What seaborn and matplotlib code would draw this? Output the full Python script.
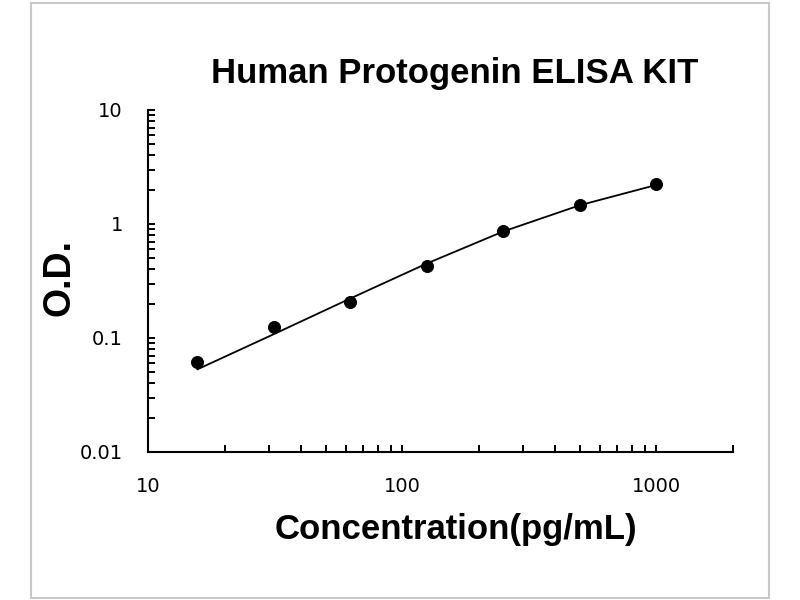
import matplotlib
matplotlib.use("Agg")
import matplotlib.pyplot as plt
import matplotlib.ticker as mticker
import pandas as pd
import seaborn as sns
from matplotlib.patches import Rectangle

# standard curve points (pg/mL vs O.D.)
concentration = [15.625, 31.25, 62.5, 125, 250, 500, 1000]
od_measured = [0.062, 0.125, 0.205, 0.43, 0.865, 1.48, 2.22]
# fitted curve
od_fit = [0.053, 0.108, 0.222, 0.45, 0.86, 1.46, 2.2]

title = "Human Protogenin ELISA KIT"
x_label = "Concentration(pg/mL)"
y_label = "O.D."

sns.set_theme(style="white")
plt.rcParams["font.family"] = ["DejaVu Sans"]
plt.rcParams["text.color"] = "black"
plt.rcParams["axes.labelcolor"] = "black"
plt.rcParams["xtick.color"] = "black"
plt.rcParams["ytick.color"] = "black"

points = pd.DataFrame({"conc": concentration, "od": od_measured})
curve = pd.DataFrame({"conc": concentration, "od": od_fit})

fig = plt.figure(figsize=(8, 6), dpi=100)
ax = fig.add_axes([0.185, 0.2467, 0.731, 0.57])

sns.lineplot(data=curve, x="conc", y="od", ax=ax, color="black", linewidth=1.3)
sns.scatterplot(data=points, x="conc", y="od", ax=ax, color="black", s=75,
                edgecolor="black", zorder=3)

ax.set_xscale("log")
ax.set_yscale("log")
ax.set_xlim(10, 2000)
ax.set_ylim(0.01, 10)

ax.xaxis.set_major_locator(mticker.FixedLocator([10, 100, 1000]))
ax.xaxis.set_major_formatter(mticker.FixedFormatter(["10", "100", "1000"]))
ax.xaxis.set_minor_locator(mticker.LogLocator(base=10, subs=range(2, 10), numticks=20))
ax.xaxis.set_minor_formatter(mticker.NullFormatter())
ax.yaxis.set_major_locator(mticker.FixedLocator([0.01, 0.1, 1, 10]))
ax.yaxis.set_major_formatter(mticker.FixedFormatter(["0.01", "0.1", "1", "10"]))
ax.yaxis.set_minor_locator(mticker.LogLocator(base=10, subs=range(2, 10), numticks=20))
ax.yaxis.set_minor_formatter(mticker.NullFormatter())

for side in ["top", "right"]:
    ax.spines[side].set_visible(False)
for side in ["left", "bottom"]:
    ax.spines[side].set_color("black")
    ax.spines[side].set_linewidth(1.5)

ax.tick_params(which="both", direction="in", length=5, width=1.4, color="black",
               bottom=True, left=True, top=False, right=False)
ax.tick_params(axis="x", which="major", labelsize=14, pad=18)
ax.tick_params(axis="y", which="major", labelsize=14, pad=18)

ax.set_xlabel(x_label, fontsize=25, fontweight="bold", family="Liberation Sans", va="center")
ax.xaxis.set_label_coords(0.526, -0.228)
ax.set_ylabel(y_label, fontsize=27, fontweight="bold", family="Liberation Sans", va="center")
ax.yaxis.set_label_coords(-0.152, 0.509)

fig.text(455 / 800, 1 - 73 / 600, title, fontsize=25, fontweight="bold",
         family="Liberation Sans", ha="center", va="center")

fig.patches.append(Rectangle((31 / 800, 2 / 600), 738 / 800, 595 / 600,
                             transform=fig.transFigure, fill=False,
                             edgecolor="#c8c8c8", linewidth=1.5))

fig.savefig("out.png", dpi=100)
